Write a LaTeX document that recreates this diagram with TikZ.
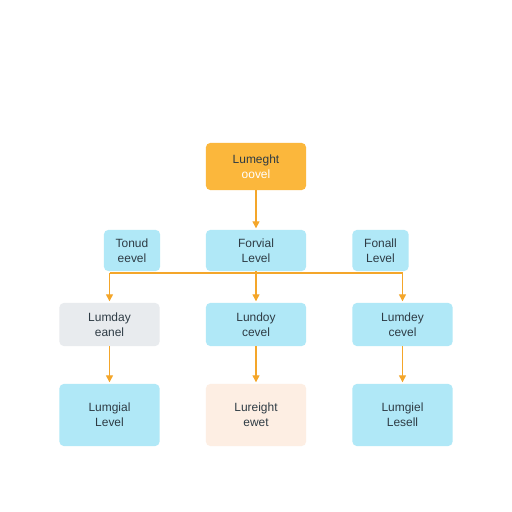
\documentclass[tikz,border=0pt]{standalone}
\usepackage{fontspec}
\setmainfont{Liberation Sans}
\usetikzlibrary{arrows.meta}
\definecolor{topfill}{HTML}{FBB73C}
\definecolor{cyanfill}{HTML}{B0E8F7}
\definecolor{grayfill}{HTML}{E8EBEE}
\definecolor{peachfill}{HTML}{FDEEE3}
\definecolor{linkcol}{HTML}{F4A62A}
\definecolor{inkcol}{HTML}{2E3B44}
\tikzset{
	lvl/.style={rounded corners=3pt, inner sep=0pt, align=center, text=inkcol,
		font=\fontsize{8.5}{10.8}\selectfont},
	wide/.style={lvl, minimum width=2.5cm},
	narrow/.style={lvl, minimum width=1.4cm, minimum height=1.025cm, fill=cyanfill},
	link/.style={draw=linkcol, line width=0.9pt, shorten >=1pt,
		>={Triangle[length=5pt,width=5pt]}}
}

\begin{document}
\begin{tikzpicture}[x=0.025cm,y=-0.025cm]
		\useasboundingbox (0,0) rectangle (512,512);
		\fill[white] (0,0) rectangle (512,512);

		\node[wide, minimum height=1.175cm, fill=topfill] (top) at (256,166.5) {Lumeght\\\textcolor{white}{oovel}};

		\node[narrow] (tonud)   at (132,250.5)   {Tonud\\eevel};
		\node[wide, minimum height=1.025cm, fill=cyanfill] (forvial) at (256,250.5) {Forvial\\Level};
		\node[narrow] (fonall)  at (380.5,250.5) {Fonall\\Level};

		\node[wide, minimum height=1.075cm, fill=grayfill] (lumday) at (109.5,324.5) {Lumday\\eanel};
		\node[wide, minimum height=1.075cm, fill=cyanfill] (lundoy) at (256,324.5)   {Lundoy\\cevel};
		\node[wide, minimum height=1.075cm, fill=cyanfill] (lumdey) at (402.5,324.5) {Lumdey\\cevel};

		\node[wide, minimum height=1.55cm, fill=cyanfill]  (lumgial)  at (109.5,415) {Lumgial\\Level};
		\node[wide, minimum height=1.55cm, fill=peachfill] (lureight) at (256,415)   {Lureight\\ewet};
		\node[wide, minimum height=1.55cm, fill=cyanfill]  (lumgiel)  at (402.5,415) {Lumgiel\\Lesell};

		\coordinate (split-l) at (109.5,273);
		\coordinate (split-m) at (256,273);
		\coordinate (split-r) at (402.5,273);

		\draw[link, ->] (top) to (forvial);
		\draw[link, shorten >=0pt] (forvial) to (split-m);
		\draw[link, shorten >=0pt] (split-l) to (split-r);
		\draw[link, ->] (split-l) to (lumday);
		\draw[link, ->] (split-m) to (lundoy);
		\draw[link, ->] (split-r) to (lumdey);
		\draw[link, ->] (lumday) to (lumgial);
		\draw[link, ->] (lundoy) to (lureight);
		\draw[link, ->] (lumdey) to (lumgiel);
	\end{tikzpicture}
\end{document}
